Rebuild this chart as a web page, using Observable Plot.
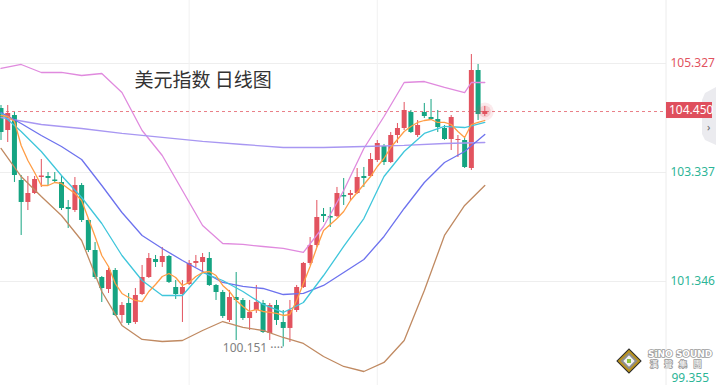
<!DOCTYPE html>
<html><head><meta charset="utf-8">
<script src="https://cdn.jsdelivr.net/npm/d3@7"></script>
<script src="https://cdn.jsdelivr.net/npm/@observablehq/plot@0.6"></script>
<style>html,body{margin:0;padding:0;background:#fff;overflow:hidden}svg{display:block}</style>
</head><body><div id="chart"></div>
<script>
// ---- candle data (index 0..72) ----
const openP = [104.505,104.103,104.377,103.190,102.789,102.953,103.245,103.263,103.199,103.154,
102.697,102.642,103.099,102.460,101.912,101.419,101.200,101.547,100.725,100.944,
100.597,101.108,101.419,101.748,101.693,101.802,101.236,101.108,101.291,101.675,
101.693,101.766,101.273,101.145,100.634,101.054,100.999,100.670,100.816,100.944,
100.396,100.907,100.597,100.488,100.816,101.236,101.675,102.003,102.569,102.533,
102.533,102.916,102.916,102.953,103.263,103.263,103.556,103.811,103.519,104.012,
104.140,104.432,104.012,104.432,104.341,104.304,104.140,103.939,103.921,103.921,
103.409,105.199,104.396];
const closeP = [104.067,104.414,103.282,102.789,102.953,103.209,103.273,103.227,103.172,102.679,
102.661,103.099,102.460,101.912,101.419,101.218,101.547,100.725,100.907,100.579,
101.090,101.419,101.766,101.693,101.802,101.328,101.108,101.236,101.675,101.711,
101.784,101.273,101.145,100.707,101.054,100.999,100.670,100.780,100.962,100.414,
100.907,100.634,100.488,100.816,101.236,101.675,102.003,102.515,102.533,102.505,
102.953,102.889,102.953,103.245,103.227,103.574,103.866,103.519,104.012,104.140,
104.469,104.067,104.195,104.359,104.304,104.158,103.939,104.341,103.939,103.428,
105.199,104.396,104.450];
const highP = [104.560,104.560,104.432,103.282,103.263,103.263,103.574,103.336,103.336,103.263,
102.825,103.245,103.136,102.496,102.058,101.437,101.583,101.583,100.962,101.127,
101.218,101.638,101.857,101.821,101.967,101.821,101.364,101.364,101.729,101.821,
101.857,101.875,101.291,101.182,101.182,101.510,101.035,100.999,101.273,100.999,
100.944,100.999,100.816,100.999,101.273,101.693,102.149,102.825,102.679,102.697,
103.063,103.227,103.008,103.409,103.428,103.683,103.921,103.848,104.067,104.231,
104.615,104.469,104.286,104.597,104.670,104.469,104.195,104.377,104.012,103.957,
105.491,105.309,104.542];
const lowP = [103.921,103.884,103.154,102.186,102.642,102.935,103.063,103.099,103.136,102.642,
102.314,102.606,102.423,101.875,101.382,100.962,101.127,100.707,100.579,100.543,
100.561,101.090,101.401,101.602,101.602,101.309,101.017,100.597,101.273,101.602,
101.492,101.255,100.999,100.670,100.597,100.268,100.634,100.451,100.762,100.396,
100.268,100.543,100.151,100.232,100.780,101.218,101.638,101.967,102.423,102.332,
102.515,102.734,102.825,102.935,103.063,103.245,103.519,103.464,103.501,103.866,
104.103,104.049,103.976,104.323,104.286,104.067,103.921,103.738,103.610,103.409,
103.373,104.286,104.359];

// ---- indicator lines ----
const ma5 = [104.377,104.359,104.268,103.830,103.556,103.336,103.099,103.099,103.154,103.136,
103.044,102.953,102.825,102.496,102.168,101.821,101.620,101.309,101.127,101.054,
100.999,100.980,101.163,101.291,101.437,101.492,101.419,101.273,101.328,101.437,
101.510,101.528,101.455,101.273,101.163,100.999,100.889,100.798,100.834,100.798,
100.780,100.762,100.725,100.743,100.999,101.309,101.620,101.967,102.277,102.387,
102.496,102.624,102.825,102.971,103.117,103.263,103.446,103.592,103.793,103.939,
104.085,104.177,104.250,104.286,104.304,104.250,104.250,104.213,104.085,103.976,
104.213,104.250,104.286];
const idx3 = [0,3,6,9,12,15,18,21,24,27,30,33,36,39,42,45,48,51,54,57,60,63,66,69,72];
const ma10 = [104.414,104.085,103.720,103.282,102.880,102.405,101.821,101.364,101.090,101.090,
101.510,101.364,101.163,100.926,100.780,100.962,101.455,101.985,102.496,103.263,
103.720,104.049,104.177,104.158,104.250];
const ma20 = [104.432,104.231,104.012,103.811,103.574,103.099,102.606,102.186,101.949,101.729,
101.528,101.328,101.255,101.218,101.108,101.127,101.273,101.510,101.748,102.168,
102.679,103.154,103.519,103.720,104.030];
const brownBand = [103.775,103.263,102.898,102.551,102.095,101.163,100.543,100.287,100.250,100.268,
100.451,100.615,100.506,100.451,100.323,100.214,99.976,99.794,99.702,99.867,
100.268,101.182,102.186,102.734,103.099];
const idx6 = [0,6,12,18,24,30,36,42,48,54,60,66,72];
const ma60 = [104.341,104.213,104.140,104.049,103.976,103.903,103.848,103.793,103.793,103.811,103.830,103.866,103.884];
const pinkIdx = [0,3,6,9,12,15,18,21,24,27,30,33,36,39,42,45,48,51,54,57,60,63,66,69,70,72];
const pinkBand = [105.236,105.309,105.163,105.163,105.108,105.144,104.797,104.103,103.647,103.008,
102.369,102.040,102.022,101.985,101.949,101.876,102.350,103.008,103.775,104.359,
104.980,104.998,104.889,104.797,104.980,104.980];

// ---- axis ----
const yTicks = [105.327, 103.337, 101.346, 99.355];
const gridIdx = [28, 56];
const title = "美元指数 日线图";

const RED = "#e2535f", GREEN = "#15a482", LBLGREEN = "#2db597";
const candles = openP.map((o, i) => ({i, open: o, close: closeP[i], high: highP[i], low: lowP[i], up: closeP[i] >= o}));
const last = candles[candles.length - 1];
const minC = candles.reduce((a, b) => (b.low < a.low ? b : a));
const toPts = (ix, vs) => ix.map((k, j) => ({i: k, v: vs[j]}));
const lineSpecs = [
  [toPts(pinkIdx, pinkBand), "#e08ade"],
  [toPts(idx3, brownBand), "#c08a62"],
  [toPts(idx6, ma60), "#a897f2"],
  [toPts(idx3, ma20), "#6d72ee"],
  [toPts(idx3, ma10), "#3fc6db"],
  [ma5.map((v, i) => ({i, v})), "#ff9d45"]
];

const chart = Plot.plot({
  width: 716, height: 385,
  marginLeft: 0, marginRight: 50, marginTop: 0, marginBottom: 0,
  style: {fontFamily: "'Noto Sans','Noto Sans CJK SC',sans-serif", background: "#fff"},
  x: {domain: [0, 72], range: [0.5, 484.3], axis: null},
  y: {domain: [99.355, 105.327], range: [390, 63], axis: null},
  marks: [
    Plot.gridY(yTicks, {stroke: "#eeeeee", strokeOpacity: 1}),
    Plot.ruleX(gridIdx, {stroke: "#f1f1f1"}),
    Plot.ruleY([last.close], {stroke: RED, strokeOpacity: 0.75, strokeDasharray: "3,3"}),
    Plot.ruleX(candles, {x: "i", y1: "low", y2: "high", stroke: d => d.up ? RED : GREEN, strokeWidth: 1}),
    Plot.ruleX(candles, {x: "i", y1: "open", y2: "close", stroke: d => d.up ? RED : GREEN, strokeWidth: 5}),
    ...lineSpecs.map(([pts, c]) => Plot.line(pts, {x: "i", y: "v", stroke: c, strokeWidth: 1.3})),
    Plot.dot([last], {x: "i", y: "close", r: 9, fill: RED, fillOpacity: 0.12}),
    Plot.dot([last], {x: "i", y: "close", r: 6, fill: RED, fillOpacity: 0.18}),
    Plot.text([minC], {x: "i", y: "low", text: d => d.low.toFixed(3) + " ····", textAnchor: "end", dx: 0, dy: 1, fill: "#808080", fontSize: 12}),
    Plot.text(yTicks.slice(0, 3), {y: d => d, text: d => d.toFixed(3), frameAnchor: "right", textAnchor: "start", dx: 4, fill: d => d > last.close ? RED : LBLGREEN, fontSize: 12}),
    Plot.text(yTicks.slice(3), {y: d => d, text: d => d.toFixed(3), frameAnchor: "right", textAnchor: "start", dx: 5, dy: -12, fill: LBLGREEN, fontSize: 12}),
    Plot.text([title], {frameAnchor: "top-left", dx: 134, dy: 73, textAnchor: "start", fontSize: 19, fill: "#333", fontFamily: "'Noto Sans CJK SC',sans-serif"})
  ]
});
document.getElementById("chart").append(chart);

// decorations: axis separator, scroll handle, current price box, logo
const svg = d3.select(chart);
const yS = chart.scale("y");
const py = yS.apply(last.close);
svg.append("line").attr("x1", 666).attr("x2", 666).attr("y1", 0).attr("y2", 385).attr("stroke", "#ececec");
svg.append("path").attr("d", "M716,87 L705,93 L702,100 L702,134 L705,140 L716,145 Z").attr("fill", "#ebebef");
svg.append("rect").attr("x", 666).attr("y", py - 9).attr("width", 46).attr("height", 16).attr("fill", "#df4f5d");
svg.append("text").attr("x", 669).attr("y", py - 1).attr("dy", "0.35em").attr("fill", "#fff").attr("text-anchor", "start")
  .attr("font-size", 12).attr("font-family", "'Noto Sans',sans-serif").text(last.close.toFixed(3));
svg.append("text").attr("x", 707).attr("y", py + 20).attr("fill", "#666").attr("text-anchor", "start").attr("font-size", 11).text("›");

const lg = svg.append("g").attr("transform", "translate(629,361)");
lg.append("rect").attr("x", -8.5).attr("y", -8.5).attr("width", 17).attr("height", 17).attr("transform", "rotate(45)").attr("fill", "#b8921e").attr("stroke", "#2a2a2a").attr("stroke-width", 1);
lg.append("rect").attr("x", -6).attr("y", -6).attr("width", 12).attr("height", 12).attr("transform", "rotate(45)").attr("fill", "#8e8e8e");
lg.append("rect").attr("x", -4).attr("y", -4).attr("width", 8).attr("height", 8).attr("transform", "rotate(45)").attr("fill", "#f4f4f4");
lg.append("rect").attr("x", -2).attr("y", -2).attr("width", 4).attr("height", 4).attr("fill", "#8cc63f");
svg.append("text").attr("x", 648).attr("y", 357).attr("font-size", 9).attr("font-weight", "bold").attr("text-anchor", "start")
  .attr("font-family", "'DejaVu Sans',sans-serif").attr("fill", "#fff").attr("stroke", "#9a9a9a").attr("stroke-width", 1.6)
  .attr("paint-order", "stroke").text("SiNO SOUND");
svg.append("text").attr("x", 650).attr("y", 367).attr("font-size", 8).attr("letter-spacing", 6.5).attr("text-anchor", "start")
  .attr("font-family", "'Noto Sans CJK TC',sans-serif").attr("fill", "#fff").attr("stroke", "#9a9a9a").attr("stroke-width", 1.6)
  .attr("paint-order", "stroke").text("漢聲集團");
</script>
</body></html>
